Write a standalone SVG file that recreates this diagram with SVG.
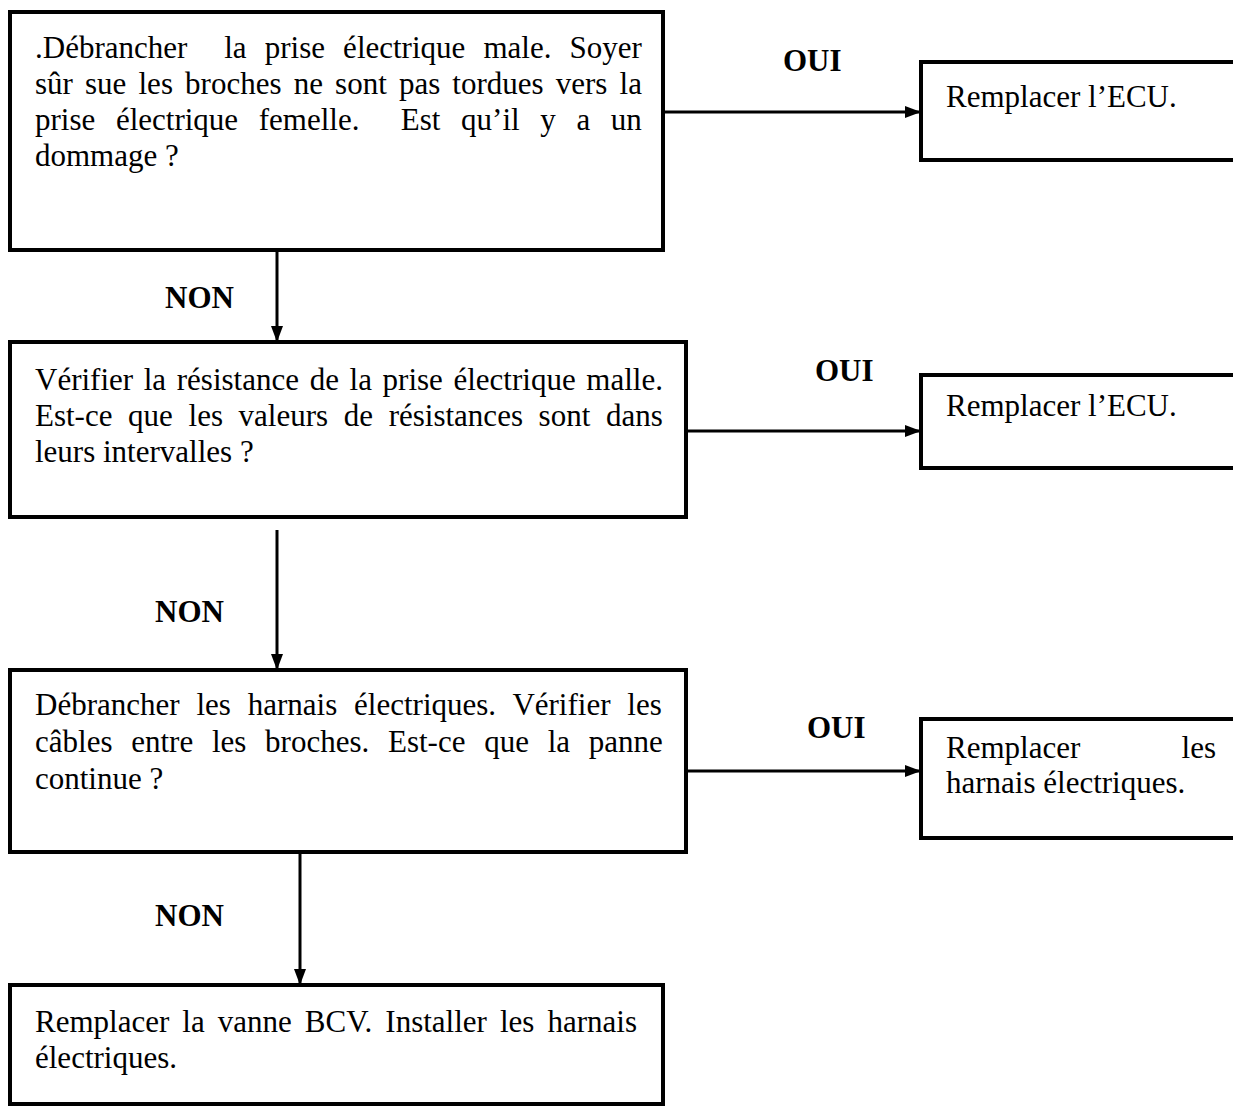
<svg xmlns="http://www.w3.org/2000/svg" width="1233" height="1108" viewBox="0 0 1233 1108">
  <style>
    .box { fill: #fff; stroke: #000; stroke-width: 4; }
    .txt { font-family: "Liberation Serif", "Times New Roman", serif; font-size: 31px; fill: #000; }
    .lbl { font-family: "Liberation Serif", "Times New Roman", serif; font-size: 31px; font-weight: bold; fill: #000; }
    .wire { stroke: #000; stroke-width: 3; fill: none; }
  </style>
  <defs>
    <marker id="arrow" markerUnits="userSpaceOnUse" markerWidth="18" markerHeight="14" refX="16" refY="7" orient="auto">
      <path d="M0,1 L16,7 L0,13 Z" fill="#000"/>
    </marker>
  </defs>
  <rect width="1233" height="1108" fill="#fff"/>

  <!-- step 1: connector check -->
  <g id="step1">
    <rect class="box" x="10" y="12" width="653" height="238"/>
    <text class="txt" y="58"><tspan x="35">.Débrancher</tspan><tspan x="224.2" word-spacing="10.4">la prise électrique male. Soyer</tspan></text>
    <text class="txt" x="35" y="94" word-spacing="4.4">sûr sue les broches ne sont pas tordues vers la</text>
    <text class="txt" y="130"><tspan x="35" word-spacing="12.9">prise électrique femelle.</tspan><tspan x="400.8" word-spacing="12.9">Est qu’il y a un</tspan></text>
    <text class="txt" x="35" y="166">dommage ?</text>
  </g>

  <g id="ecu1">
    <rect class="box" x="921" y="62" width="330" height="98"/>
    <text class="txt" x="946" y="107">Remplacer l’ECU.</text>
  </g>

  <!-- step 2: resistance check -->
  <g id="step2">
    <rect class="box" x="10" y="342" width="676" height="175"/>
    <text class="txt" x="35" y="390" word-spacing="2.9">Vérifier la résistance de la prise électrique malle.</text>
    <text class="txt" x="35" y="426" word-spacing="7.9">Est-ce que les valeurs de résistances sont dans</text>
    <text class="txt" x="35" y="462">leurs intervalles ?</text>
  </g>

  <g id="ecu2">
    <rect class="box" x="921" y="375" width="330" height="93"/>
    <text class="txt" x="946" y="416">Remplacer l’ECU.</text>
  </g>

  <!-- step 3: harness check -->
  <g id="step3">
    <rect class="box" x="10" y="670" width="676" height="182"/>
    <text class="txt" x="35" y="715" word-spacing="9.1">Débrancher les harnais électriques. Vérifier les</text>
    <text class="txt" x="35" y="752" word-spacing="11">câbles entre les broches. Est-ce que la panne</text>
    <text class="txt" x="35" y="789">continue ?</text>
  </g>

  <g id="harness">
    <rect class="box" x="921" y="719" width="330" height="119"/>
    <text class="txt" x="946" y="758">Remplacer</text>
    <text class="txt" x="1216" y="758" text-anchor="end">les</text>
    <text class="txt" x="946" y="793">harnais électriques.</text>
  </g>

  <!-- step 4: valve replacement -->
  <g id="step4">
    <rect class="box" x="10" y="985" width="653" height="119"/>
    <text class="txt" x="35" y="1032" word-spacing="5.3">Remplacer la vanne BCV. Installer les harnais</text>
    <text class="txt" x="35" y="1068">électriques.</text>
  </g>

  <!-- connectors and branch labels -->
  <g id="connectors">
    <line class="wire" x1="663" y1="112" x2="921" y2="112" marker-end="url(#arrow)"/>
    <line class="wire" x1="686" y1="431" x2="921" y2="431" marker-end="url(#arrow)"/>
    <line class="wire" x1="686" y1="771" x2="921" y2="771" marker-end="url(#arrow)"/>
    <line class="wire" x1="277" y1="250" x2="277" y2="342" marker-end="url(#arrow)"/>
    <line class="wire" x1="277" y1="530" x2="277" y2="670" marker-end="url(#arrow)"/>
    <line class="wire" x1="300" y1="852" x2="300" y2="985" marker-end="url(#arrow)"/>
    <text class="lbl" x="783" y="71">OUI</text>
    <text class="lbl" x="815" y="381">OUI</text>
    <text class="lbl" x="807" y="738">OUI</text>
    <text class="lbl" x="165" y="308">NON</text>
    <text class="lbl" x="155" y="622">NON</text>
    <text class="lbl" x="155" y="926">NON</text>
  </g>
</svg>
